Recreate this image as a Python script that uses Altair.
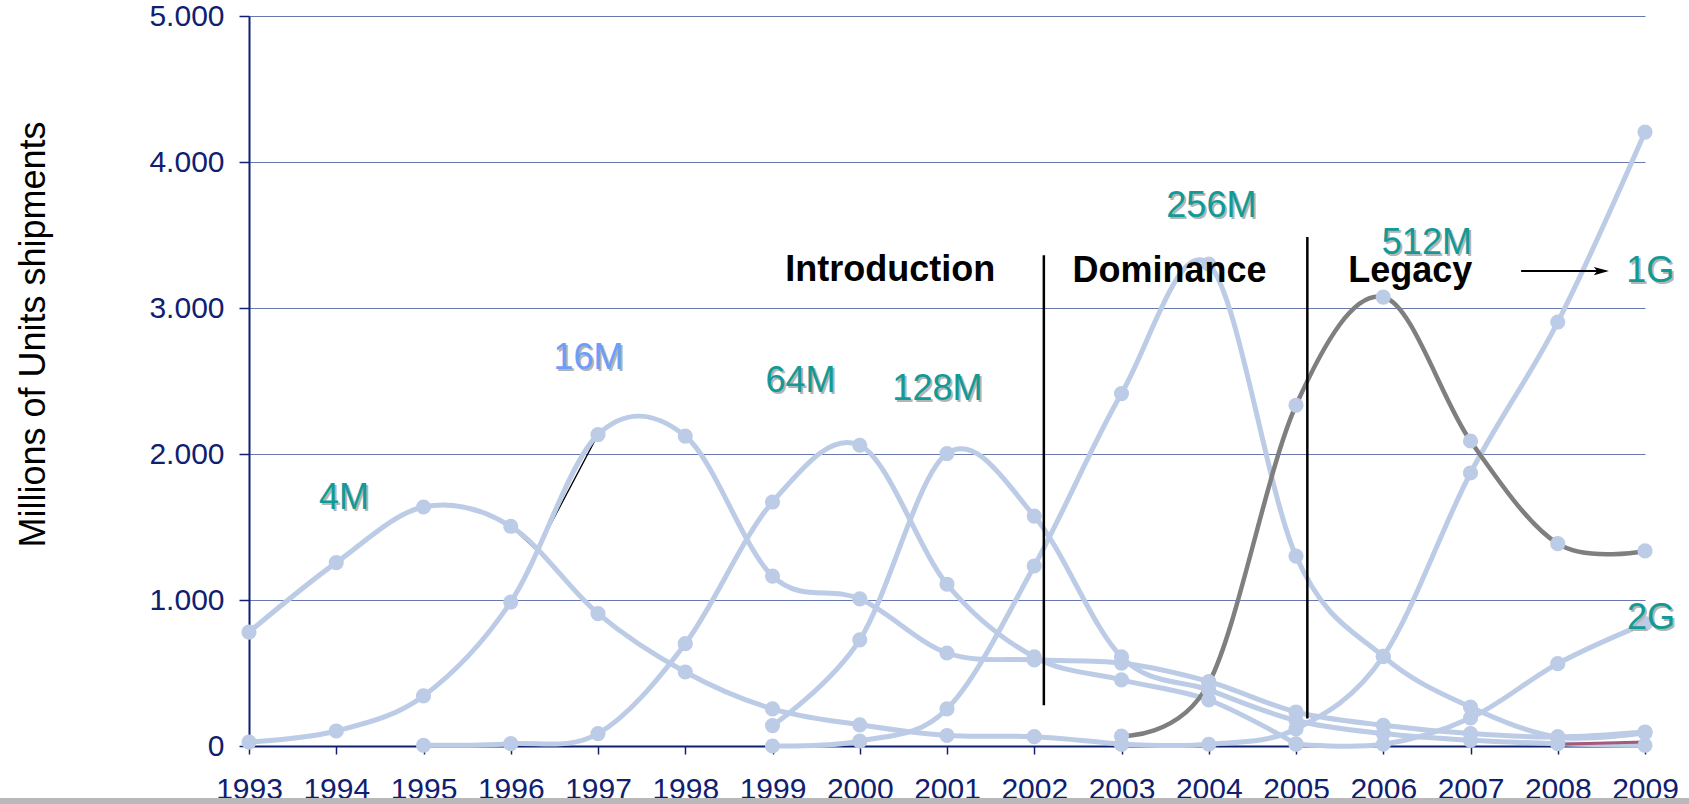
import altair as alt
import pandas as pd

FONT = "Liberation Sans"
NAVY = "#102070"
GRID = "#6a78b0"
LINE_BLUE = "#bccbe6"
TEAL = "#129a96"

YEARS = list(range(1993, 2010))

# DRAM unit shipments per density generation, millions of units (None = not shipping)
GEN_4M = [780, 1256, 1637, 1505, 907, 507, 254, 145, 72, 64, 12, None, None, None, None, None, None]
GEN_16M = [27, 103, 343, 986, 2133, 2123, 1164, 1008, 637, 590, 568, 441, 233, 142, 85, 62, 96]
GEN_64M = [None, None, 5, 16, 85, 701, 1671, 2060, 1108, 610, 453, 315, 15, None, None, None, None]
GEN_128M = [None] * 6 + [140, 727, 2003, 1575, 610, 384, 175, 85, 39, 16, 5]
GEN_256M = [None] * 6 + [0, 34, 254, 1233, 2414, 3300, 1301, 614, 267, 62, 90]
GEN_512M = [None] * 10 + [68, 430, 2334, 3075, 2089, 1386, 1336]
GEN_1G = [None] * 10 + [12, 12, 117, 614, 1870, 2904, 4205]
GEN_2G = [None] * 12 + [12, 12, 192, 564, 838]
GEN_4G = [None] * 15 + [12, 27]

SERIES = {
    "4M": GEN_4M, "16M": GEN_16M, "64M": GEN_64M, "128M": GEN_128M,
    "256M": GEN_256M, "512M": GEN_512M, "1G": GEN_1G, "2G": GEN_2G, "4G": GEN_4G,
}

# generation labels
LABEL_TEXT = ["4M", "16M", "64M", "128M", "256M", "512M", "1G", "2G"]
LABEL_X = [1994.09, 1996.89, 1999.32, 2000.89, 2004.03, 2006.50, 2009.06, 2009.07]
LABEL_Y = [1626, 2585, 2425, 2373, 3623, 3373, 3178, 804]
LABEL_COLOR = [TEAL, "#6b9dfc", TEAL, TEAL, TEAL, TEAL, TEAL, TEAL]

# life-cycle phases
PHASE_TEXT = ["Introduction", "Dominance", "Legacy"]
PHASE_X = [2000.35, 2003.55, 2006.31]
PHASE_Y = [3185, 3178, 3178]
BOUNDARY_X = [2002.11, 2005.13]
BOUNDARY_LOW = [279, 188]
BOUNDARY_HIGH = [3361, 3486]

# arrow pointing at the 1G generation
ARROW_X = [2007.58, 2008.55]
ARROW_Y = 3253

# stray connector between the 4M and 16M curves
STRAY_X = [1996.0, 1996.3, 1997.0]
STRAY_Y = [1505, 1340, 2133]

rows = []
for name, vals in SERIES.items():
    for yr, v in zip(YEARS, vals):
        if v is not None:
            rows.append({"gen": name, "year": yr, "units": v})
df = pd.DataFrame(rows)

x_scale = alt.Scale(domain=[1993, 2009], nice=False, zero=False)
y_scale = alt.Scale(domain=[0, 5000], nice=False)

x_enc = alt.X(
    "year:Q", scale=x_scale,
    axis=alt.Axis(
        values=YEARS, format="d", title=None, grid=False,
        labelFont=FONT, labelFontSize=30, labelColor=NAVY, labelFlush=False,
        labelOverlap=False, labelPadding=20,
        tickSize=8, tickColor=NAVY, tickWidth=1.5,
        domainColor=NAVY, domainWidth=2,
    ),
)
y_enc = alt.Y(
    "units:Q", scale=y_scale,
    axis=alt.Axis(
        values=[0, 1000, 2000, 3000, 4000, 5000],
        labelExpr="replace(format(datum.value, ','), ',', '.')",
        labelFont=FONT, labelFontSize=30, labelColor=NAVY, labelPadding=15,
        tickSize=10, tickColor=NAVY, tickWidth=1.5,
        domainColor=NAVY, domainWidth=2,
        grid=True, gridColor=GRID, gridWidth=1,
        title="Millions of Units shipments", titleFont=FONT, titleFontSize=36,
        titleFontWeight="normal", titleColor="black", titleAngle=-90,
        titleX=-205, titleY=318, titleAlign="center", titleBaseline="alphabetic",
    ),
)

base = alt.Chart(df)

stray = alt.Chart(pd.DataFrame({"year": STRAY_X, "units": STRAY_Y, "i": [0, 1, 2]})).mark_line(
    color="black", strokeWidth=1.3
).encode(x=x_enc, y=y_enc, order="i:Q")

light = base.transform_filter(
    alt.FieldOneOfPredicate(field="gen", oneOf=["4M", "16M", "64M", "128M", "256M", "1G", "2G"])
).mark_line(interpolate="cardinal", color=LINE_BLUE, strokeWidth=5).encode(
    x=x_enc, y=y_enc, detail="gen:N", order="year:Q"
)

gray = base.transform_filter(alt.datum.gen == "512M").mark_line(
    interpolate="cardinal", color="#7f7f7f", strokeWidth=4.5
).encode(x=x_enc, y=y_enc, order="year:Q")

red = base.transform_filter(alt.datum.gen == "4G").mark_line(
    color="#a45a78", strokeWidth=3
).encode(x=x_enc, y=y_enc, order="year:Q")

points = base.transform_filter(alt.datum.gen != "4G").mark_circle(
    color=LINE_BLUE, size=230, opacity=1
).encode(x=x_enc, y=y_enc)

bounds = alt.Chart(pd.DataFrame({"year": BOUNDARY_X, "units": BOUNDARY_LOW, "top": BOUNDARY_HIGH})).mark_rule(
    color="black", strokeWidth=2.5
).encode(x=x_enc, y=y_enc, y2="top:Q")

arrow_line = alt.Chart(pd.DataFrame({"year": [ARROW_X[0]], "x2": [ARROW_X[1]], "units": [ARROW_Y]})).mark_rule(
    color="black", strokeWidth=2
).encode(x=x_enc, x2="x2:Q", y=y_enc)

arrow_head = alt.Chart(pd.DataFrame({"year": [ARROW_X[1] - 0.05], "units": [ARROW_Y]})).mark_point(
    shape="M-1,-0.55L1,0L-1,0.55L-0.55,0Z", filled=True, color="black", size=230, opacity=1
).encode(x=x_enc, y=y_enc)

labels_df = pd.DataFrame({"year": LABEL_X, "units": LABEL_Y, "txt": LABEL_TEXT, "col": LABEL_COLOR})
label_shadow = alt.Chart(labels_df).mark_text(
    font=FONT, fontSize=36, align="center", baseline="alphabetic", dx=2, dy=2, color="#b4b4b4"
).encode(x=x_enc, y=y_enc, text="txt:N")
label_text = alt.Chart(labels_df).mark_text(
    font=FONT, fontSize=36, align="center", baseline="alphabetic"
).encode(x=x_enc, y=y_enc, text="txt:N", color=alt.Color("col:N", scale=None))

phase_text = alt.Chart(pd.DataFrame({"year": PHASE_X, "units": PHASE_Y, "txt": PHASE_TEXT})).mark_text(
    font=FONT, fontSize=36, fontWeight="bold", align="center", baseline="alphabetic", color="black"
).encode(x=x_enc, y=y_enc, text="txt:N")

# slide footer strip
footer = alt.Chart(pd.DataFrame({"k": [0]})).mark_rect(color="#b9b9b9").encode(
    x=alt.value(-249), x2=alt.value(1440), y=alt.value(782), y2=alt.value(790)
)

chart = alt.layer(
    stray, light, gray, red, bounds, points, arrow_line, arrow_head,
    label_shadow, label_text, phase_text, footer,
).properties(
    width=1396, height=730,
    autosize=alt.AutoSizeParams(type="none"),
    padding={"left": 249, "top": 16, "right": 44, "bottom": 58},
    background="white",
).configure_view(stroke=None)

chart.save("out.html", embed_options={"renderer": "svg", "actions": False})
